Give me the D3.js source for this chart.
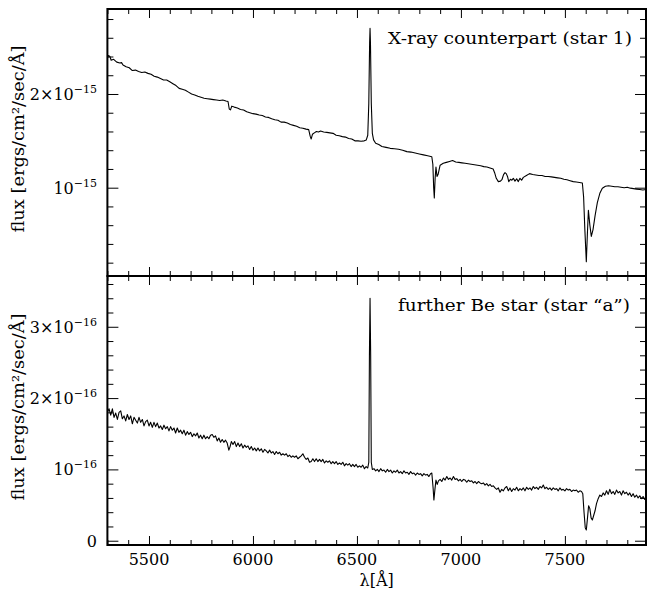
<!DOCTYPE html>
<html>
<head>
<meta charset="utf-8">
<script src="https://cdn.jsdelivr.net/npm/d3@7"></script>
<style>
  body { margin: 0; background: #fff; }
  svg text { font-family: "DejaVu Serif", "Liberation Serif", serif; fill: #000; }
</style>
</head>
<body>
<div id="chart"></div>
<script>
// --- data ---
// X-ray counterpart (star 1): [wavelength Å, flux in 1e-15 ergs/cm²/sec/Å]
const topSpectrum = [
  [5300,2.38],[5305,2.41],[5312,2.40],[5318,2.36],[5330,2.37],[5345,2.34],[5360,2.33],[5368,2.335],[5375,2.31],
  [5390,2.29],[5405,2.28],[5420,2.25],[5435,2.255],[5450,2.24],[5465,2.23],[5480,2.235],[5495,2.22],
  [5510,2.21],[5525,2.19],[5540,2.18],[5555,2.165],[5570,2.15],[5585,2.15],[5600,2.13],[5615,2.11],
  [5630,2.09],[5645,2.06],[5660,2.05],[5675,2.04],[5690,2.02],[5705,2.00],[5720,1.99],[5735,1.975],
  [5750,1.965],[5765,1.955],[5780,1.95],[5795,1.945],[5810,1.94],[5825,1.935],[5840,1.93],[5855,1.935],
  [5870,1.925],[5880,1.92],[5886,1.84],[5892,1.83],[5898,1.87],[5910,1.86],[5925,1.85],[5940,1.835],
  [5955,1.83],[5970,1.81],[5985,1.80],[6000,1.79],[6015,1.785],[6030,1.775],[6045,1.77],[6060,1.755],
  [6075,1.75],[6090,1.735],[6105,1.725],[6120,1.72],[6135,1.70],[6150,1.70],[6165,1.69],[6180,1.675],
  [6195,1.665],[6210,1.655],[6225,1.64],[6240,1.635],[6255,1.625],[6268,1.62],[6275,1.55],[6280,1.52],
  [6286,1.57],[6295,1.585],[6305,1.60],[6315,1.595],[6325,1.605],[6340,1.595],[6355,1.59],[6370,1.585],
  [6385,1.58],[6400,1.56],[6415,1.555],[6430,1.545],[6445,1.54],[6460,1.525],[6475,1.52],[6490,1.50],
  [6505,1.50],[6520,1.495],[6535,1.50],[6545,1.51],[6552,1.56],[6557,1.90],[6561,2.55],[6563,2.70],
  [6565,2.55],[6569,1.90],[6574,1.58],[6580,1.51],[6590,1.475],[6605,1.46],[6620,1.44],[6640,1.43],
  [6660,1.42],[6680,1.415],[6700,1.41],[6720,1.40],[6740,1.385],[6760,1.38],[6780,1.37],[6800,1.36],
  [6820,1.35],[6840,1.34],[6860,1.33],[6865,1.25],[6869,1.00],[6872,0.89],[6876,1.10],[6880,1.22],
  [6885,1.12],[6890,1.14],[6900,1.24],[6915,1.26],[6930,1.27],[6945,1.28],[6960,1.29],[6975,1.275],
  [6990,1.27],[7005,1.265],[7020,1.26],[7035,1.255],[7050,1.25],[7065,1.245],[7080,1.24],[7095,1.235],
  [7110,1.225],[7125,1.22],[7140,1.21],[7155,1.20],[7162,1.16],[7170,1.10],[7180,1.065],[7190,1.07],
  [7198,1.09],[7205,1.14],[7212,1.16],[7218,1.15],[7224,1.12],[7230,1.065],[7238,1.09],[7245,1.08],
  [7252,1.10],[7260,1.07],[7268,1.095],[7276,1.065],[7284,1.10],[7292,1.08],[7300,1.11],[7315,1.13],
  [7330,1.15],[7345,1.14],[7360,1.135],[7375,1.13],[7390,1.13],[7405,1.12],[7420,1.12],[7435,1.115],
  [7450,1.11],[7465,1.105],[7480,1.10],[7495,1.09],[7510,1.085],[7525,1.075],[7540,1.065],[7555,1.06],
  [7570,1.055],[7584,1.05],[7590,0.90],[7596,0.55],[7603,0.21],[7608,0.50],[7613,0.76],[7620,0.60],
  [7627,0.48],[7635,0.55],[7645,0.70],[7656,0.84],[7668,0.94],[7680,0.995],[7695,1.015],[7710,1.02],
  [7725,1.015],[7740,1.01],[7755,1.01],[7770,1.005],[7785,1.00],[7800,1.005],[7815,0.995],[7830,0.99],
  [7845,0.985],[7860,0.98],[7875,0.975],[7890,0.98]
];

// further Be star (star "a"): [wavelength Å, flux in 1e-16 ergs/cm²/sec/Å]
const bottomSpectrum = [
  [5300,1.80],[5308,1.85],[5316,1.76],[5324,1.85],[5332,1.73],[5340,1.79],[5348,1.70],[5356,1.80],
  [5364,1.82],[5372,1.71],[5380,1.75],[5388,1.68],[5396,1.77],[5404,1.70],[5412,1.75],[5420,1.64],
  [5428,1.73],[5436,1.69],[5444,1.65],[5452,1.73],[5460,1.66],[5468,1.70],[5476,1.61],[5484,1.67],
  [5492,1.69],[5500,1.61],[5508,1.66],[5516,1.59],[5524,1.66],[5532,1.60],[5540,1.65],[5548,1.58],
  [5556,1.61],[5564,1.56],[5572,1.62],[5580,1.57],[5588,1.60],[5596,1.54],[5604,1.60],[5612,1.55],
  [5620,1.58],[5628,1.51],[5636,1.58],[5644,1.52],[5652,1.55],[5660,1.50],[5668,1.55],[5676,1.48],
  [5684,1.53],[5692,1.49],[5700,1.52],[5708,1.46],[5716,1.50],[5724,1.47],[5732,1.51],[5740,1.44],
  [5748,1.48],[5756,1.43],[5764,1.48],[5772,1.43],[5780,1.46],[5788,1.43],[5796,1.48],[5804,1.49],
  [5812,1.45],[5820,1.47],[5828,1.40],[5836,1.44],[5844,1.38],[5852,1.42],[5860,1.38],[5868,1.41],
  [5876,1.37],[5884,1.27],[5890,1.32],[5896,1.39],[5904,1.35],[5912,1.39],[5920,1.32],[5928,1.37],
  [5936,1.32],[5944,1.36],[5952,1.30],[5960,1.34],[5968,1.31],[5976,1.33],[5984,1.28],[5992,1.32],
  [6000,1.27],[6008,1.30],[6016,1.26],[6024,1.30],[6032,1.26],[6040,1.29],[6048,1.24],[6056,1.28],
  [6064,1.26],[6072,1.23],[6080,1.27],[6088,1.23],[6096,1.25],[6104,1.21],[6112,1.25],[6120,1.22],
  [6128,1.24],[6136,1.20],[6144,1.22],[6152,1.20],[6160,1.22],[6168,1.18],[6176,1.20],[6184,1.17],
  [6192,1.19],[6200,1.17],[6208,1.19],[6216,1.15],[6224,1.17],[6232,1.19],[6240,1.22],[6248,1.17],
  [6256,1.14],[6264,1.16],[6272,1.10],[6280,1.11],[6288,1.15],[6296,1.11],[6304,1.15],[6312,1.11],
  [6320,1.14],[6328,1.11],[6336,1.14],[6344,1.09],[6352,1.12],[6360,1.10],[6368,1.12],[6376,1.08],
  [6384,1.11],[6392,1.08],[6400,1.11],[6408,1.07],[6416,1.09],[6424,1.07],[6432,1.10],[6440,1.05],
  [6448,1.08],[6456,1.06],[6464,1.08],[6472,1.04],[6480,1.07],[6488,1.04],[6496,1.07],[6504,1.03],
  [6512,1.05],[6520,1.03],[6528,1.06],[6536,1.01],[6544,1.04],[6552,1.02],[6557,1.10],[6560,2.60],
  [6563,3.40],[6566,2.60],[6569,1.10],[6574,1.00],[6582,1.01],[6590,0.98],[6598,1.00],[6606,0.97],
  [6614,1.01],[6622,0.98],[6630,0.99],[6638,0.96],[6646,1.00],[6654,0.97],[6662,0.99],[6670,0.95],
  [6678,0.98],[6686,0.96],[6694,0.99],[6702,0.95],[6710,0.97],[6718,0.94],[6726,0.98],[6734,0.95],
  [6742,0.96],[6750,0.93],[6758,0.97],[6766,0.94],[6774,0.95],[6782,0.92],[6790,0.95],[6798,0.93],
  [6806,0.94],[6814,0.91],[6822,0.94],[6830,0.92],[6838,0.93],[6846,0.90],[6854,0.94],[6860,0.95],
  [6866,0.75],[6870,0.57],[6875,0.72],[6880,0.85],[6886,0.79],[6892,0.84],[6900,0.86],[6908,0.83],
  [6916,0.88],[6924,0.85],[6932,0.90],[6940,0.86],[6948,0.88],[6956,0.85],[6964,0.90],[6972,0.86],
  [6980,0.87],[6988,0.84],[6996,0.86],[7004,0.83],[7012,0.86],[7020,0.85],[7028,0.82],[7036,0.85],
  [7044,0.83],[7052,0.84],[7060,0.81],[7068,0.83],[7076,0.80],[7084,0.83],[7092,0.81],[7100,0.80],
  [7108,0.81],[7116,0.78],[7124,0.80],[7132,0.77],[7140,0.79],[7148,0.76],[7156,0.77],[7164,0.74],
  [7172,0.72],[7180,0.74],[7188,0.68],[7196,0.72],[7204,0.70],[7212,0.74],[7220,0.76],[7228,0.70],
  [7236,0.74],[7244,0.69],[7252,0.73],[7260,0.71],[7268,0.75],[7276,0.70],[7284,0.73],[7292,0.71],
  [7300,0.74],[7308,0.70],[7316,0.75],[7324,0.72],[7332,0.74],[7340,0.71],[7348,0.76],[7356,0.73],
  [7364,0.75],[7372,0.72],[7380,0.76],[7388,0.74],[7396,0.78],[7404,0.73],[7412,0.75],[7420,0.72],
  [7428,0.74],[7436,0.71],[7444,0.74],[7452,0.72],[7460,0.73],[7468,0.70],[7476,0.74],[7484,0.71],
  [7492,0.72],[7500,0.70],[7508,0.73],[7516,0.71],[7524,0.72],[7532,0.69],[7540,0.71],[7548,0.70],
  [7556,0.71],[7564,0.68],[7572,0.70],[7580,0.69],[7586,0.66],[7592,0.40],[7598,0.18],[7603,0.15],
  [7608,0.30],[7614,0.49],[7620,0.45],[7626,0.32],[7632,0.29],[7638,0.35],[7645,0.42],[7652,0.52],
  [7660,0.59],[7668,0.64],[7676,0.62],[7684,0.67],[7692,0.64],[7700,0.70],[7708,0.65],[7716,0.72],
  [7724,0.66],[7732,0.69],[7740,0.65],[7748,0.71],[7756,0.67],[7764,0.69],[7772,0.64],[7780,0.70],
  [7788,0.66],[7796,0.68],[7804,0.64],[7812,0.67],[7820,0.62],[7828,0.66],[7836,0.61],[7844,0.64],
  [7852,0.60],[7860,0.63],[7868,0.59],[7876,0.62],[7884,0.58],[7890,0.60]
];

const waveDomain = [5300, 7890];
const waveMajor = [5500, 6000, 6500, 7000, 7500];
const waveLabels = ['5500', '6000', '6500', '7000', '7500'];

const topDomain = [0.0576, 2.907];
const topMajor = [1, 2];
const topLabels = [['10', '−15'], ['2×10', '−15']];

const bottomDomain = [-0.06, 3.712];
const bottomMajor = [0, 1, 2, 3];
const bottomLabels = [['0', ''], ['10', '−16'], ['2×10', '−16'], ['3×10', '−16']];

const titles = ['X-ray counterpart (star 1)', 'further Be star (star \u201ca\u201d)'];
const yTitle = 'flux [ergs/cm\u00b2/sec/\u00c5]';
const xTitle = '\u03bb[\u00c5]';

// --- layout ---
const width = 647, height = 594;
const frame = { left: 107.4, right: 646, top: 9, mid: 276, bottom: 545 };

const svg = d3.select('#chart').append('svg')
  .attr('width', width)
  .attr('height', height);

const x = d3.scaleLinear().domain(waveDomain).range([frame.left, frame.right]);
const waveMinor = d3.range(5300, 7900, 100).filter(v => !waveMajor.includes(v));

const panels = [
  { top: frame.top, bottom: frame.mid, domain: topDomain, data: topSpectrum,
    major: topMajor, labels: topLabels, title: titles[0], titleX: 632, titleY: 44, titleLen: 244,
    yTitleY: 139, showX: false },
  { top: frame.mid, bottom: frame.bottom, domain: bottomDomain, data: bottomSpectrum,
    major: bottomMajor, labels: bottomLabels, title: titles[1], titleX: 630, titleY: 311, titleLen: 232,
    yTitleY: 407, showX: true }
];

function cleanTicks(g) {
  g.select('.domain').remove();
  g.selectAll('.tick text').remove();
  g.selectAll('.tick line').attr('stroke', '#000').attr('stroke-width', 1);
}

panels.forEach((p, i) => {
  const y = d3.scaleLinear().domain(p.domain).range([p.bottom, p.top]);
  const yMinor = d3.range(Math.ceil(p.domain[0] / 0.2) * 0.2, p.domain[1], 0.2)
    .map(v => +v.toFixed(2))
    .filter(v => !p.major.includes(v));

  const g = svg.append('g').attr('class', `panel-${i}`);

  // clip the spectrum to the panel box
  const clipId = `clip-${i}`;
  svg.append('clipPath').attr('id', clipId)
    .append('rect')
    .attr('x', frame.left).attr('y', p.top)
    .attr('width', frame.right - frame.left).attr('height', p.bottom - p.top);

  const line = d3.line()
    .x(d => x(d[0]))
    .y(d => y(d[1]));

  g.append('path')
    .datum(p.data)
    .attr('clip-path', `url(#${clipId})`)
    .attr('fill', 'none')
    .attr('stroke', '#000')
    .attr('stroke-width', 1.1)
    .attr('stroke-linejoin', 'round')
    .attr('d', line);

  // x ticks, bottom and top edges, pointing inward
  [[waveMinor, 5], [waveMajor, 9]].forEach(([vals, len]) => {
    g.append('g').attr('transform', `translate(0,${p.bottom})`)
      .call(d3.axisBottom(x).tickValues(vals).tickSize(-len).tickFormat(''))
      .call(cleanTicks);
    g.append('g').attr('transform', `translate(0,${p.top})`)
      .call(d3.axisTop(x).tickValues(vals).tickSize(-len).tickFormat(''))
      .call(cleanTicks);
  });

  // y ticks, left and right edges, pointing inward
  [[yMinor, 6], [p.major, 11]].forEach(([vals, len]) => {
    g.append('g').attr('transform', `translate(${frame.left},0)`)
      .call(d3.axisLeft(y).tickValues(vals).tickSize(-len).tickFormat(''))
      .call(cleanTicks);
    g.append('g').attr('transform', `translate(${frame.right},0)`)
      .call(d3.axisRight(y).tickValues(vals).tickSize(-len).tickFormat(''))
      .call(cleanTicks);
  });

  // y tick labels with superscript exponent
  p.major.forEach((v, k) => {
    const [base, exp] = p.labels[k];
    const t = g.append('text')
      .attr('x', 97)
      .attr('y', y(v) + 6)
      .attr('text-anchor', 'end')
      .style('font-size', '16px');
    t.append('tspan').text(base);
    if (exp) {
      t.append('tspan').attr('dy', -7).style('font-size', '11px').text(exp);
    }
  });

  // frame
  g.append('rect')
    .attr('x', frame.left).attr('y', p.top)
    .attr('width', frame.right - frame.left).attr('height', p.bottom - p.top)
    .attr('fill', 'none')
    .attr('stroke', '#000')
    .attr('stroke-width', 2);

  // panel title
  g.append('text')
    .attr('x', p.titleX)
    .attr('y', p.titleY)
    .attr('text-anchor', 'end')
    .attr('textLength', p.titleLen)
    .attr('lengthAdjust', 'spacingAndGlyphs')
    .style('font-size', '16px')
    .text(p.title);

  // y axis title
  g.append('text')
    .attr('transform', `translate(24,${p.yTitleY}) rotate(-90)`)
    .attr('text-anchor', 'middle')
    .attr('textLength', 187)
    .attr('lengthAdjust', 'spacingAndGlyphs')
    .style('font-size', '16px')
    .text(yTitle);

  if (p.showX) {
    waveMajor.forEach((v, k) => {
      g.append('text')
        .attr('x', x(v))
        .attr('y', 565)
        .attr('text-anchor', 'middle')
        .style('font-size', '16px')
        .text(waveLabels[k]);
    });
    g.append('text')
      .attr('x', (frame.left + frame.right) / 2)
      .attr('y', 586)
      .attr('text-anchor', 'middle')
      .style('font-size', '16px')
      .text(xTitle);
  }
});
</script>
</body>
</html>
